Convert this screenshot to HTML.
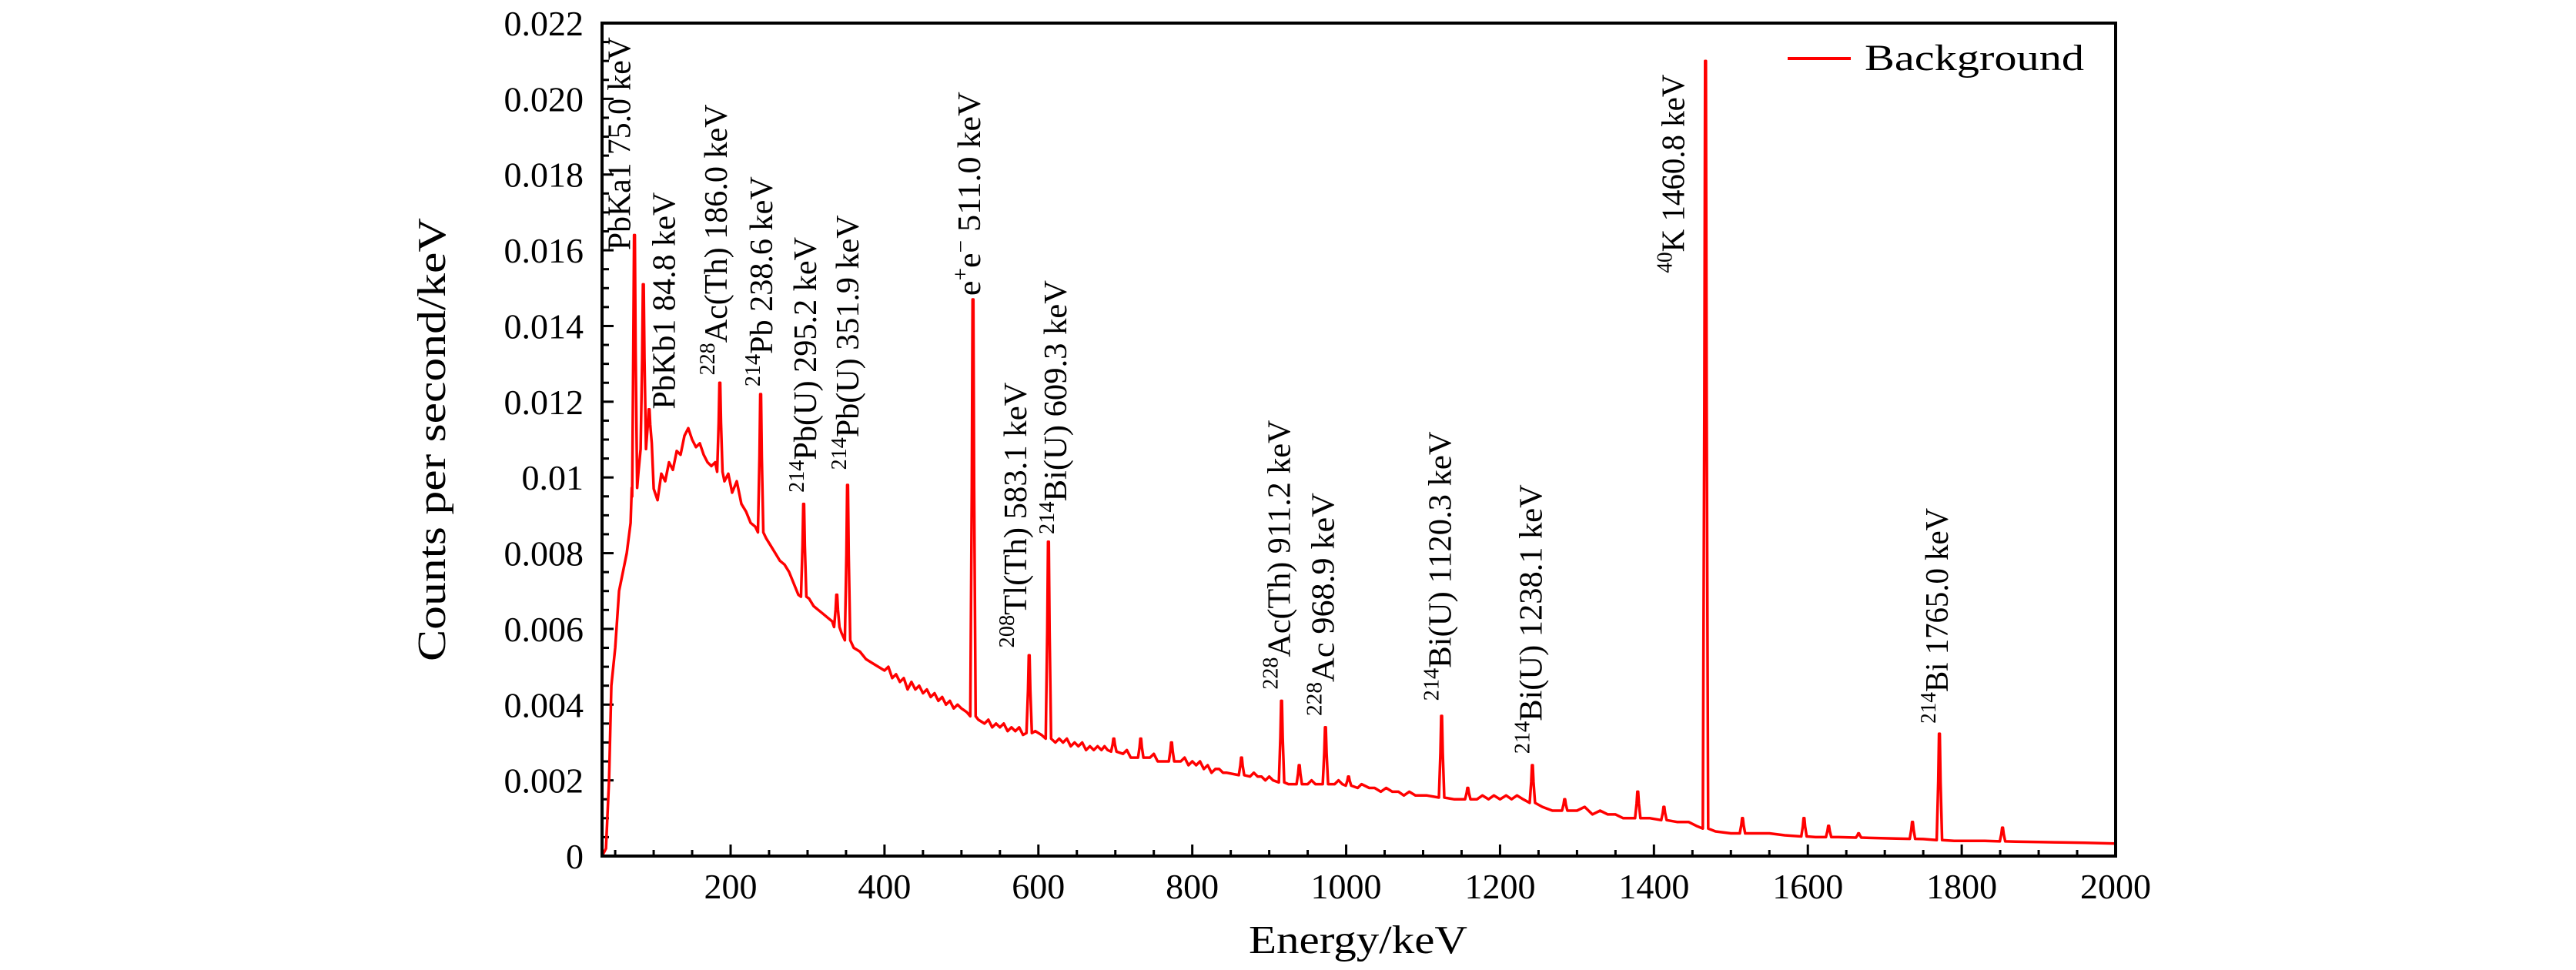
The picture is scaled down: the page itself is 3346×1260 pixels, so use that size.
<!DOCTYPE html>
<html><head><meta charset="utf-8"><style>
html,body{margin:0;padding:0;background:#fff;}
svg{display:block;font-family:"Liberation Serif",serif;}
</style></head><body>
<svg id="chart" width="3346" height="1260" viewBox="0 0 3346 1260">
<g id="ticks"></g>
<g id="labels"></g>
<g id="series"></g>
<g id="annots"></g>
<rect x="782" y="30" width="1966" height="1082" fill="none" stroke="#000" stroke-width="4"/>
<text x="566" y="571" font-size="52" text-anchor="middle" textLength="576" lengthAdjust="spacingAndGlyphs" transform="rotate(-90 566 571)" dominant-baseline="middle">Counts per second/keV</text>
<text x="1764" y="1238" font-size="52" text-anchor="middle" textLength="284" lengthAdjust="spacingAndGlyphs">Energy/keV</text>
<g>
<line x1="2322" y1="76" x2="2404" y2="76" stroke="#ff0000" stroke-width="4"/>
<text x="2422" y="91" font-size="48" textLength="285" lengthAdjust="spacingAndGlyphs">Background</text>
</g>
</svg>
<script>
const contE=[33,38,42,45,50,55,60,65,70,72,
80,92,100,105,110,115,120,125,130,135,
140,145,150,155,160,165,170,175,180,192,
197,202,208,214,220,226,232,246,252,258,
264,270,276,282,288,302,308,314,320,326,
332,344,360,368,376,384,392,400,405,410,
415,420,425,430,435,440,445,450,455,460,
465,470,475,480,485,490,495,500,507,522,
530,535,540,545,550,555,560,565,570,575,
580,596,604,622,627,632,637,642,647,652,
657,662,667,672,677,682,686,690,710,715,
720,745,750,755,785,790,795,800,805,810,
815,820,825,830,835,840,845,875,880,885,
890,895,900,905,925,950,955,960,985,990,
995,1015,1020,1030,1037,1045,1052,1060,1068,1075,
1082,1090,1097,1105,1140,1170,1177,1185,1192,1200,
1208,1215,1222,1230,1255,1268,1300,1310,1320,1330,
1340,1350,1360,1395,1430,1445,1455,1480,1500,1530,
1550,1570,1610,1640,1680,1700,1720,1750,1790,1810,
1830,1870,1900,1930,1960,2000];
const contV=[0,0.0002,0.002,0.0045,0.0055,0.0070,0.0075,0.0080,0.0088,0.0095,
0.0101,0.0113,0.0097,0.0094,0.0101,0.0099,0.0104,0.0102,0.0107,0.0106,
0.0111,0.0113,0.0110,0.0108,0.0109,0.0106,0.0104,0.0103,0.0104,0.0099,
0.0101,0.0096,0.0099,0.0093,0.0091,0.0088,0.0087,0.0084,0.0082,0.0080,
0.0078,0.0077,0.0075,0.0072,0.0069,0.0068,0.0066,0.0065,0.0064,0.0063,
0.0062,0.0059,0.0055,0.0054,0.0052,0.0051,0.0050,0.0049,0.0050,0.0047,
0.0048,0.0046,0.0047,0.0044,0.0046,0.0044,0.0045,0.0043,0.0044,0.0042,
0.0043,0.0041,0.0042,0.0040,0.0041,0.0039,0.0040,0.0039,0.0038,0.0036,
0.0035,0.0036,0.0034,0.0035,0.0034,0.0035,0.0033,0.0034,0.0033,0.0034,
0.0032,0.0033,0.0032,0.0030,0.0031,0.0030,0.0031,0.0029,0.0030,0.0029,
0.0030,0.0028,0.0029,0.0028,0.0029,0.0028,0.0029,0.0028,0.0027,0.0028,
0.0026,0.0026,0.0027,0.0025,0.0025,0.0026,0.0024,0.0025,0.0024,0.0025,
0.0023,0.0024,0.0022,0.0023,0.0023,0.0022,0.0022,0.0021,0.0022,0.0021,
0.0021,0.0020,0.0021,0.0020,0.0019,0.0019,0.0020,0.0019,0.0019,0.0020,
0.0019,0.0018,0.0019,0.0018,0.0018,0.0017,0.0018,0.0017,0.0017,0.0016,
0.0017,0.0016,0.0016,0.0016,0.0015,0.0015,0.0016,0.0015,0.0016,0.0015,
0.0016,0.0015,0.0016,0.0015,0.0013,0.0012,0.0012,0.0013,0.0011,0.0012,
0.0011,0.0011,0.0010,0.0010,0.0009,0.0009,0.0008,0.00065,0.0006,0.0006,
0.0006,0.00055,0.0005,0.0005,0.00048,0.00047,0.00046,0.00045,0.0004,0.0004,
0.0004,0.00038,0.00037,0.00036,0.00035,0.00033];
const peakE=[75,86.5,94,186,239,295,338,352,515,588,613,698,733,773,864,916,939,973,1003,1124,1158,1242,1284,1379,1413,1467,1515,1595,1627,1666,1736,1771,1853];
const peakH=[0.0164,0.0151,0.0118,0.0125,0.0122,0.0093,0.0069,0.0098,0.0147,0.0053,0.0083,0.0031,0.0031,0.0030,0.0026,0.0041,0.0024,0.0034,0.0021,0.0037,0.0018,0.0024,0.0015,0.0017,0.0013,0.0210,0.0010,0.0010,0.0008,0.0006,0.0009,0.00323,0.00075];
const xTicks=[200,400,600,800,1000,1200,1400,1600,1800,2000];
const yTicks=[0,0.002,0.004,0.006,0.008,0.01,0.012,0.014,0.016,0.018,0.020,0.022];
const yTickLabels=["0","0.002","0.004","0.006","0.008","0.01","0.012","0.014","0.016","0.018","0.020","0.022"];
const annText=[["","PbKa1 75.0 keV"],["","PbKb1 84.8 keV"],["228","Ac(Th) 186.0 keV"],["214","Pb 238.6 keV"],["214","Pb(U) 295.2 keV"],["214","Pb(U) 351.9 keV"],["","e+e\u2212 511.0 keV"],["208","Tl(Th) 583.1 keV"],["214","Bi(U) 609.3 keV"],["228","Ac(Th) 911.2 keV"],["228","Ac 968.9 keV"],["214","Bi(U) 1120.3 keV"],["214","Bi(U) 1238.1 keV"],["40","K 1460.8 keV"],["214","Bi 1765.0 keV"]];
const annE=[60,118,185,244,301,356,514,574,626,917,974,1126,1244,1429,1772];
const annY=[0.0160,0.0118,0.0127,0.0124,0.0096,0.0102,0.0148,0.0055,0.0085,0.0044,0.0037,0.0041,0.0027,0.0154,0.0035];
const annLen=[277,282,352,273,332,331,265,345,330,350,290,350,350,258,280];

const NS="http://www.w3.org/2000/svg";
const X=e=>949+(e-200)*(1799/1800);
const Y=v=>1112-v/0.022*1082;
function mk(t,a,p){const el=document.createElementNS(NS,t);for(const k in a)el.setAttribute(k,a[k]);p.appendChild(el);return el;}
function base(e){for(let i=0;i<contE.length-1;i++){if(e>=contE[i]&&e<=contE[i+1]){const t=(e-contE[i])/(contE[i+1]-contE[i]);return contV[i]+t*(contV[i+1]-contV[i]);}}return contV[contV.length-1];}

const ticks=document.getElementById('ticks');
for(let e=50;e<2000;e+=50){
  const major=e%200===0;
  const l=mk('line',{x1:X(e),x2:X(e),y1:1112,y2:1112-(major?15:8),stroke:'#000','stroke-width':3},ticks);
  
  
}
for(let k=1;k<44;k++){
  const v=k*0.0005;const major=k%4===0;
  const l=mk('line',{x1:782,x2:782+(major?15:9),y1:Y(v),y2:Y(v),stroke:'#000','stroke-width':3},ticks);
  
  
}
const labels=document.getElementById('labels');
xTicks.forEach(e=>{
  const t=mk('text',{x:X(e),y:1167,'font-size':46,'text-anchor':'middle'},labels);t.textContent=String(e);
  
  
});
yTicks.forEach((v,i)=>{
  const t=mk('text',{x:758,y:Y(v)+16,'font-size':46,'text-anchor':'end'},labels);t.textContent=yTickLabels[i];
  
  
});

let pts=contE.map((e,i)=>[e,contV[i]]);
peakE.forEach((e,i)=>{
  const h=peakH[i];const b=base(e);
  pts.push([e-3.5,b],[e-1.5,b+(h-b)*0.55],[e-0.5,h],[e+0.5,h],[e+1.5,b+(h-b)*0.55],[e+3.5,b]);
});
pts.sort((a,b)=>a[0]-b[0]);
const d=pts.map((p,i)=>(i?'L':'M')+X(p[0]).toFixed(1)+' '+Y(p[1]).toFixed(1)).join(' ');
const path=mk('path',{d:d,fill:'none',stroke:'#ff0000','stroke-width':3.5,'stroke-linejoin':'round'},document.getElementById('series'));



const annots=document.getElementById('annots');
annText.forEach((a,i)=>{
  const x=X(annE[i]),y=Y(annY[i]);
  const t=mk('text',{x:x,y:y,'font-size':42,transform:`rotate(-90 ${x} ${y})`,'dominant-baseline':'middle',textLength:annLen[i],lengthAdjust:'spacingAndGlyphs'},annots);
  
  
  if(a[1].startsWith('e+e')){
    const p1=mk('tspan',{},t);p1.textContent='e';
    const p2=mk('tspan',{'font-size':28,dy:-12},t);p2.textContent='+';
    const p3=mk('tspan',{dy:12},t);p3.textContent='e';
    const p4=mk('tspan',{'font-size':28,dy:-12},t);p4.textContent='\u2212';
    const p5=mk('tspan',{dy:12},t);p5.textContent=' 511.0 keV';
  } else if(a[0]){const s=mk('tspan',{'font-size':28,dy:-12},t);s.textContent=a[0];const r=mk('tspan',{dy:12},t);r.textContent=a[1];}
  else t.textContent=a[1];
});
</script>
</body></html>
